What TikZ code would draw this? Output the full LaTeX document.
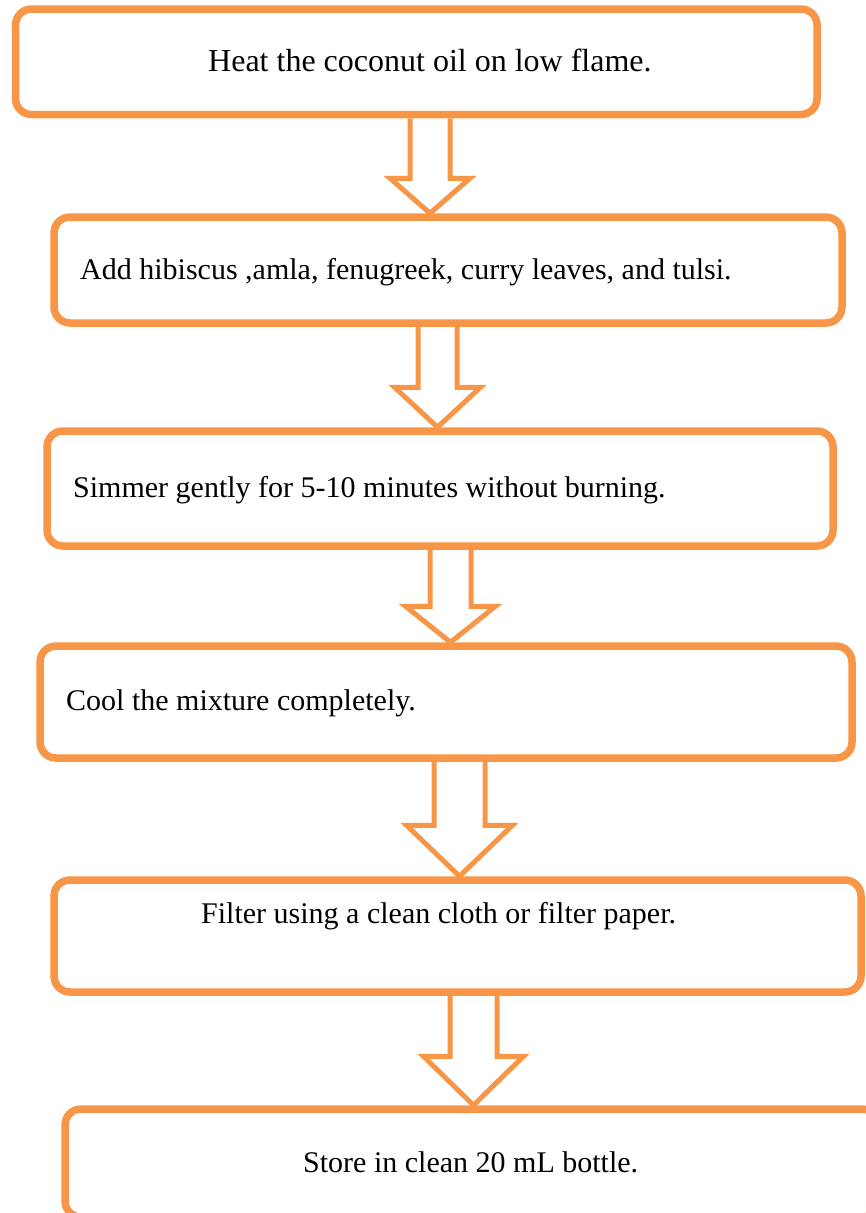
\documentclass[tikz,border=0pt]{standalone}
\usepackage{fontspec}
\setmainfont{Liberation Serif}
\usetikzlibrary{calc}
\definecolor{steporange}{HTML}{F79646}

\newcommand{\flowarrow}[6]{%
	\draw[arrowline] let \p1=(#1.south), \p2=(#2.north) in
		({#3pt-#4pt},\y1) -- ({#3pt-#4pt},{\y2+#6pt}) -- ({#3pt-#5pt},{\y2+#6pt}) -- (#3pt,\y2)
		-- ({#3pt+#5pt},{\y2+#6pt}) -- ({#3pt+#4pt},{\y2+#6pt}) -- ({#3pt+#4pt},\y1);
}

\begin{document}
\begin{tikzpicture}[x=1pt, y=-1pt,
		stepbox/.style={draw=steporange, line width=7.5pt, rounded corners=16pt, inner sep=0pt},
		steptext/.style={anchor=base west, inner sep=0pt, font=\fontsize{30}{36}\selectfont},
		arrowline/.style={steporange, line width=5pt, miter limit=4}]
		\useasboundingbox (0,0) rectangle (865,1213);

		\node[stepbox, minimum width=801.5pt, minimum height=105.5pt] (heat) at (416.25,61.75) {};
		\node[stepbox, minimum width=788pt, minimum height=106pt] (add) at (448,270) {};
		\node[stepbox, minimum width=786pt, minimum height=115pt] (simmer) at (440,488.5) {};
		\node[stepbox, minimum width=812pt, minimum height=112pt] (cool) at (446,702) {};
		\node[stepbox, minimum width=807pt, minimum height=112pt] (filter) at (457.5,936) {};
		\node[stepbox, minimum width=813pt, minimum height=108pt] (store) at (471.5,1163) {};

		\node[steptext, font=\fontsize{32}{38}\selectfont] (heattext) at (208,71) {Heat the coconut oil on low flame.};
		\node[steptext] (addtext) at (80,279) {Add hibiscus ,amla, fenugreek, curry leaves, and tulsi.};
		\node[steptext] (simmertext) at (73,497) {Simmer gently for 5-10 minutes without burning.};
		\node[steptext] (cooltext) at (66,710) {Cool the mixture completely.};
		\node[steptext] (filtertext) at (201,923) {Filter using a clean cloth or filter paper.};
		\node[steptext] (storetext) at (303,1172) {Store in clean 20 mL bottle.};

		\flowarrow{heat}{add}{430}{20}{40}{35}
		\flowarrow{add}{simmer}{437.5}{19.5}{43}{40}
		\flowarrow{simmer}{cool}{450.5}{20.5}{45}{36}
		\flowarrow{cool}{filter}{459.5}{25.5}{53}{51}
		\flowarrow{filter}{store}{473.5}{23.5}{50}{49}
	\end{tikzpicture}
\end{document}
